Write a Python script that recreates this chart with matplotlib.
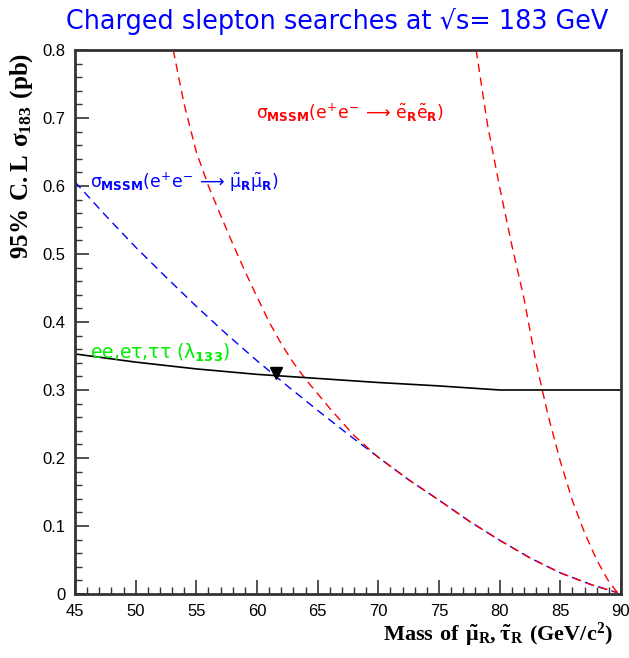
import matplotlib
matplotlib.use("Agg")
import matplotlib.pyplot as plt
from matplotlib.ticker import MultipleLocator

plt.rcParams['mathtext.fontset'] = 'custom'
plt.rcParams['mathtext.rm'] = 'DejaVu Sans'
plt.rcParams['mathtext.it'] = 'DejaVu Sans'
plt.rcParams['mathtext.bf'] = 'DejaVu Sans:bold'
plt.rcParams['mathtext.sf'] = 'Liberation Serif:bold'

# Observed 95% CL limit (black solid)
mass_limit = [45, 50, 55, 60, 65, 70, 75, 80, 85, 90]
xsec_limit = [0.353, 0.341, 0.331, 0.323, 0.317, 0.311, 0.306, 0.300, 0.300, 0.300]

# MSSM smuon pair cross section (blue dashed)
mass_smu = [45, 47.5, 50, 52.5, 55, 57.5, 60, 62.5, 65, 67.5, 70, 72.5, 75, 77.5, 80, 82.5, 85, 87.5, 89.7]
xsec_smu = [0.606, 0.557, 0.510, 0.466, 0.423, 0.382, 0.343, 0.306, 0.270, 0.235, 0.201, 0.168, 0.138,
            0.107, 0.079, 0.053, 0.031, 0.014, 0.002]

# MSSM cross section (red dashed, left)
mass_red1 = [53.1, 54, 55, 56, 57, 58, 59, 60, 61, 62, 63, 64, 66, 68, 70, 72.5, 75, 77.5, 80, 82.5, 85, 87.5, 89.7]
xsec_red1 = [0.80, 0.72, 0.65, 0.60, 0.557, 0.515, 0.475, 0.437, 0.40, 0.368, 0.34, 0.316, 0.273, 0.233,
             0.201, 0.168, 0.138, 0.107, 0.079, 0.053, 0.031, 0.014, 0.002]

# MSSM selectron pair cross section (red dashed, right)
mass_sel = [78.06, 79, 80, 81, 82, 83, 84, 85, 86, 87, 88, 89, 89.8]
xsec_sel = [0.80, 0.69, 0.598, 0.513, 0.435, 0.34, 0.262, 0.195, 0.137, 0.09, 0.05, 0.018, 0.0]

# Crossing point marker
mass_cross = [61.6]
xsec_cross = [0.325]

fig = plt.figure(figsize=(6.29, 6.58), dpi=100)
ax = fig.add_axes([0.1192, 0.0973, 0.8681, 0.8267])

dash = (0, (6, 4))
ax.plot(mass_smu, xsec_smu, color='blue', lw=1.0, linestyle=dash)
ax.plot(mass_red1, xsec_red1, color='red', lw=1.0, linestyle=dash)
ax.plot(mass_sel, xsec_sel, color='red', lw=1.0, linestyle=dash)
ax.plot(mass_limit, xsec_limit, color='black', lw=1.2)
ax.plot(mass_cross, xsec_cross, marker='v', color='black', markersize=8, linestyle='none')

ax.set_xlim(45, 90)
ax.set_ylim(0, 0.8)
ax.xaxis.set_major_locator(MultipleLocator(5))
ax.xaxis.set_minor_locator(MultipleLocator(1))
ax.yaxis.set_major_locator(MultipleLocator(0.1))
ax.yaxis.set_minor_locator(MultipleLocator(0.02))
ax.set_xticks(range(45, 91, 5))
ax.set_xticklabels([str(v) for v in range(45, 91, 5)])
ax.set_yticks([0, 0.1, 0.2, 0.3, 0.4, 0.5, 0.6, 0.7, 0.8])
ax.set_yticklabels(['0', '0.1', '0.2', '0.3', '0.4', '0.5', '0.6', '0.7', '0.8'])
ax.tick_params(which='both', direction='in', top=False, right=False,
               labelsize=12, color='#333333')
ax.tick_params(which='major', length=10, width=1.2, pad=7)
ax.tick_params(which='minor', length=5, width=1.0)
for lab in ax.get_xticklabels() + ax.get_yticklabels():
    lab.set_family('Liberation Sans')
for s in ax.spines.values():
    s.set_linewidth(2)
    s.set_color('#333333')

fig.text(0.536, 0.967, 'Charged slepton searches at \u221as= 183 GeV',
         color='blue', fontsize=18.4, ha='center', va='center', family='DejaVu Sans')

ax.text(59.9, 0.708, r'$\sigma_{\mathbf{MSSM}}(e^{+}e^{-}\,\longrightarrow\,\tilde{e}_{\mathbf{R}}\tilde{e}_{\mathbf{R}})$',
        color='red', fontsize=12.3, ha='left', va='center')
ax.text(46.2, 0.605, r'$\sigma_{\mathbf{MSSM}}(e^{+}e^{-}\,\longrightarrow\,\tilde{\mu}_{\mathbf{R}}\tilde{\mu}_{\mathbf{R}})$',
        color='blue', fontsize=12.3, ha='left', va='center')
ax.text(46.2, 0.355, r'ee,e$\tau$,$\tau\tau$ ($\lambda_{\mathbf{133}}$)',
        color='#00ee00', fontsize=13.5, ha='left', va='center', family='DejaVu Sans')

fig.text(0.035, 0.763, r'$\mathsf{95\%\ C.L\ \sigma_{183}\ (pb)}$', rotation=90,
         fontsize=18, ha='center', va='center')
fig.text(0.975, 0.035, r'$\mathsf{Mass\ of\ \tilde{\mu}_{R},\tilde{\tau}_{R}\ (GeV/c^{2})}$',
         fontsize=16, ha='right', va='center')

fig.savefig('out.png', dpi=100)
